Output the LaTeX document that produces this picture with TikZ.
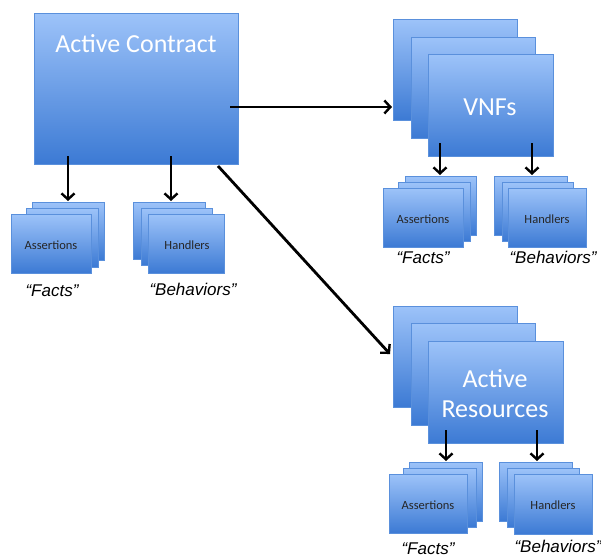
\documentclass[tikz,border=0pt]{standalone}
\usepackage{fontspec}
\setmainfont{Carlito}
\newfontfamily\lblfont{Liberation Sans}
\usetikzlibrary{calc,shadows,arrows.meta}
\definecolor{boxtop}{HTML}{9DC3F9}
\definecolor{boxbot}{HTML}{3C7AD4}
\definecolor{boxline}{HTML}{5A90DC}
\begin{document}
\begin{tikzpicture}[x=1pt,y=-1pt,
  bx/.style={draw=boxline, line width=0.6pt, top color=boxtop, bottom color=boxbot,
    anchor=north west, inner sep=0pt, outer sep=0pt,
    drop shadow={shadow xshift=1.2pt, shadow yshift=-1.2pt, opacity=0.35, fill=black!60}},
  bigtxt/.style={text=white, font=\fontsize{26}{29}\selectfont, inner sep=0pt, align=center},
  smalltxt/.style={text=black!85, font=\fontsize{12.5}{14}\selectfont, inner sep=0pt},
  lbl/.style={font=\lblfont\itshape\fontsize{17}{19}\selectfont, inner sep=0pt},
  arr/.style={-{Straight Barb[length=6pt,width=13pt,line width=2.4pt]}, line width=2.8pt, black}]
\useasboundingbox (0,0) rectangle (601,558);
\fill[white] (0,0) rectangle (601,558);
% helper: box from (x1,y1) to (x2,y2)
\newcommand{\bxat}[5]{\node[bx, minimum width={#4-#2}, minimum height={#5-#3}] (#1) at (#2,#3) {};}
% Active Contract
\bxat{ac}{34}{13}{238}{164}
\node[bigtxt] (actxt) at (136,44) {Active Contract};
% left assertions
\bxat{aoneb}{32}{202}{104}{260}
\bxat{aonem}{26}{208}{98}{267}
\bxat{aonef}{11}{214}{91}{273}
\node[smalltxt] (aonet) at (51,245) {Assertions};
\bxat{honeb}{133}{202}{205}{259}
\bxat{honem}{141}{208}{212}{265}
\bxat{honef}{148}{214}{224}{273}
\node[smalltxt] (honet) at (187,245) {Handlers};
\node[lbl] (fone) at (52,291) {“Facts”};
\node[lbl] (bone) at (193,289) {“Behaviors”};
% VNFs
\bxat{vb}{393}{19}{517}{120}
\bxat{vm}{411}{37}{535}{138}
\bxat{vf}{428}{54}{553}{156}
\node[bigtxt] (vtxt) at (490,107) {VNFs};
\bxat{atwob}{405}{176}{476}{235}
\bxat{atwom}{398}{182}{470}{241}
\bxat{atwof}{383}{188}{463}{247}
\node[smalltxt] (atwot) at (423,219) {Assertions};
\bxat{htwob}{494}{176}{567}{235}
\bxat{htwom}{502}{182}{573}{241}
\bxat{htwof}{508}{188}{586}{247}
\node[smalltxt] (htwot) at (547,219) {Handlers};
\node[lbl] (ftwo) at (423,258) {“Facts”};
\node[lbl] (btwo) at (553,257) {“Behaviors”};
% Active Resources
\bxat{rb}{393}{306}{517}{407}
\bxat{rm}{411}{323}{535}{425}
\bxat{rf}{428}{341}{563}{443}
\node[bigtxt] (rtxt) at (495,394) {Active\\[1pt]Resources};
\bxat{athreeb}{409}{462}{482}{521}
\bxat{athreem}{403}{468}{476}{527}
\bxat{athreef}{389}{474}{467}{533}
\node[smalltxt] (athreet) at (428,505) {Assertions};
\bxat{hthreeb}{499}{462}{572}{521}
\bxat{hthreem}{507}{468}{579}{527}
\bxat{hthreef}{514}{474}{592}{534}
\node[smalltxt] (hthreet) at (553,505) {Handlers};
\node[lbl] (fthree) at (428,549) {“Facts”};
\node[lbl] (bthree) at (558,546) {“Behaviors”};
% arrows
\draw[arr] ($(ac.south west)+(34,-8)$) -- ($(aoneb.north west)+(36,-1)$);
\draw[arr] ($(ac.south west)+(137,-8)$) -- ($(honeb.north west)+(38,-1)$);
\draw[arr] ($(ac.north east)+(-8,94)$) -- ($(vb.north west)+(-1,88)$);
\draw[arr] ($(ac.south east)+(-20,2)$) -- ($(rb.north west)+(-3,48)$);
\draw[arr] ($(vf.south west)+(12,-13)$) -- ($(atwob.north west)+(35,-1)$);
\draw[arr] ($(vf.south west)+(104,-13)$) -- ($(htwob.north west)+(38,-1)$);
\draw[arr] ($(rf.south west)+(18,-13)$) -- ($(athreeb.north west)+(37,-1)$);
\draw[arr] ($(rf.south west)+(109,-13)$) -- ($(hthreeb.north west)+(38,-1)$);
\end{tikzpicture}
\end{document}
